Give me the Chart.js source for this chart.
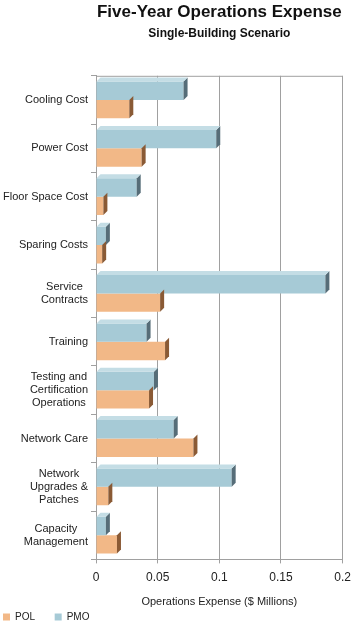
<!DOCTYPE html>
<html>
<head>
<meta charset="utf-8">
<script src="https://cdn.jsdelivr.net/npm/chart.js@4/dist/chart.umd.min.js"></script>
<style>
  html, body { margin: 0; padding: 0; background: #fff; }
  #wrap { width: 358px; height: 632px; position: relative; }
</style>
</head>
<body>
<div id="wrap"><canvas id="opsChart"></canvas></div>
<script>
const categories = [
    'Cooling Cost',
    'Power Cost',
    'Floor Space Cost',
    'Sparing Costs',
    ['Service', 'Contracts'],
    'Training',
    ['Testing and', 'Certification', 'Operations'],
    'Network Care',
    ['Network', 'Upgrades &', 'Patches'],
    ['Capacity', 'Management']
];
const pmoValues = [0.071, 0.0975, 0.033, 0.008, 0.186, 0.041, 0.047, 0.063, 0.110, 0.008];
const polValues = [0.027, 0.037, 0.006, 0.005, 0.052, 0.056, 0.043, 0.079, 0.010, 0.017];
const xTicks = [0, 0.05, 0.1, 0.15, 0.2];

const pmoColor = '#a6cad6';
const pmoSide = '#566d78';
const polColor = '#f2b887';
const polSide = '#8a5a35';
const labelFont = '11px "Liberation Sans", Arial';

// fake 3d: dark end face + light top face on every bar
const barDepth = {
    id: 'barDepth',
    afterDatasetsDraw(chart) {
        const ctx = chart.ctx;
        const d = 4;
        const sides = [pmoSide, polSide];
        const tops = ['#c4dde5', '#f7d2b0'];
        chart.data.datasets.forEach((ds, i) => {
            chart.getDatasetMeta(i).data.forEach(bar => {
                const top = bar.y - bar.height / 2;
                const bottom = bar.y + bar.height / 2;
                ctx.save();
                ctx.fillStyle = sides[i];
                ctx.beginPath();
                ctx.moveTo(bar.x, top);
                ctx.lineTo(bar.x + d, top - d);
                ctx.lineTo(bar.x + d, bottom - d);
                ctx.lineTo(bar.x, bottom);
                ctx.closePath();
                ctx.fill();
                if (i === 0) {
                    ctx.fillStyle = tops[i];
                    ctx.beginPath();
                    ctx.moveTo(bar.base, top);
                    ctx.lineTo(bar.base + d, top - d);
                    ctx.lineTo(bar.x + d, top - d);
                    ctx.lineTo(bar.x, top);
                    ctx.closePath();
                    ctx.fill();
                }
                ctx.restore();
            });
        });
        // top edge of the back wall
        const area = chart.chartArea;
        ctx.save();
        ctx.strokeStyle = '#a0a0a0';
        ctx.lineWidth = 1;
        ctx.beginPath();
        ctx.moveTo(area.left, area.top + 0.5);
        ctx.lineTo(area.right, area.top + 0.5);
        ctx.stroke();
        ctx.restore();
    }
};

// category labels: block right-aligned, lines centred inside the block
const centredLabels = {
    id: 'centredLabels',
    afterDraw(chart) {
        const ctx = chart.ctx;
        const yScale = chart.scales.y;
        const right = yScale.right - 8;
        const lineH = 13;
        ctx.save();
        ctx.font = labelFont;
        ctx.fillStyle = '#222';
        ctx.textAlign = 'center';
        ctx.textBaseline = 'middle';
        categories.forEach((cat, i) => {
            const lines = Array.isArray(cat) ? cat : [cat];
            const w = Math.max(...lines.map(l => ctx.measureText(l).width));
            const cx = right - w / 2;
            const cy = yScale.getPixelForTick(i);
            const y0 = cy - (lines.length - 1) * lineH / 2;
            lines.forEach((l, k) => ctx.fillText(l, cx, y0 + k * lineH));
        });
        ctx.restore();
    }
};

const chartData = {
    labels: categories,
    datasets: [{
        label: 'PMO',
        data: pmoValues,
        backgroundColor: pmoColor,
        borderWidth: 0
    }, {
        label: 'POL',
        data: polValues,
        backgroundColor: polColor,
        borderWidth: 0
    }]
};

const options = {
    indexAxis: 'y',
    responsive: true,
    maintainAspectRatio: false,
    animation: false,
    layout: { padding: { left: 0, right: 12, top: 0, bottom: 0 } },
    datasets: { bar: { categoryPercentage: 0.76, barPercentage: 1 } },
    scales: {
        x: {
            min: 0,
            max: 0.2,
            afterBuildTicks: axis => { axis.ticks = xTicks.map(v => ({ value: v })); },
            ticks: {
                color: '#222',
                font: { family: 'Liberation Sans, Arial', size: 12 },
                padding: 7,
                callback: v => String(v)
            },
            grid: { color: '#a0a0a0', tickLength: 4 },
            border: { color: '#a0a0a0' },
            title: {
                display: true,
                text: 'Operations Expense ($ Millions)',
                color: '#222',
                font: { family: 'Liberation Sans, Arial', size: 11 },
                padding: { top: 4, bottom: 0 }
            }
        },
        y: {
            afterFit: axis => { axis.width = 96; },
            ticks: {
                color: 'rgba(0,0,0,0)',
                font: { family: 'Liberation Sans, Arial', size: 11 },
                padding: 3,
                autoSkip: false
            },
            grid: { drawOnChartArea: false, color: '#a0a0a0', tickLength: 5 },
            border: { color: '#a0a0a0' }
        }
    },
    plugins: {
        title: {
            display: true,
            fullSize: false,
            text: 'Five-Year Operations Expense',
            color: '#111',
            font: { family: 'Liberation Sans, Arial', size: 17, weight: 'bold' },
            padding: { top: 2, bottom: 4 }
        },
        subtitle: {
            display: true,
            fullSize: false,
            text: 'Single-Building Scenario',
            color: '#111',
            font: { family: 'Liberation Sans, Arial', size: 12, weight: 'bold' },
            padding: { top: 0, bottom: 35 }
        },
        legend: {
            position: 'bottom',
            align: 'start',
            reverse: true,
            labels: {
                boxWidth: 7,
                boxHeight: 7,
                padding: 3,
                color: '#222',
                font: { family: 'Liberation Sans, Arial', size: 10 },
                generateLabels: chart => {
                    const items = Chart.defaults.plugins.legend.labels.generateLabels(chart);
                    items.forEach(it => { it.text = it.text + '\u00a0\u00a0\u00a0\u00a0\u00a0\u00a0'; });
                    return items;
                }
            }
        },
        tooltip: { enabled: false }
    }
};

const ctx = document.getElementById('opsChart').getContext('2d');
new Chart(ctx, {
    type: 'bar',
    data: chartData,
    options: options,
    plugins: [barDepth, centredLabels]
});
</script>
</body>
</html>
